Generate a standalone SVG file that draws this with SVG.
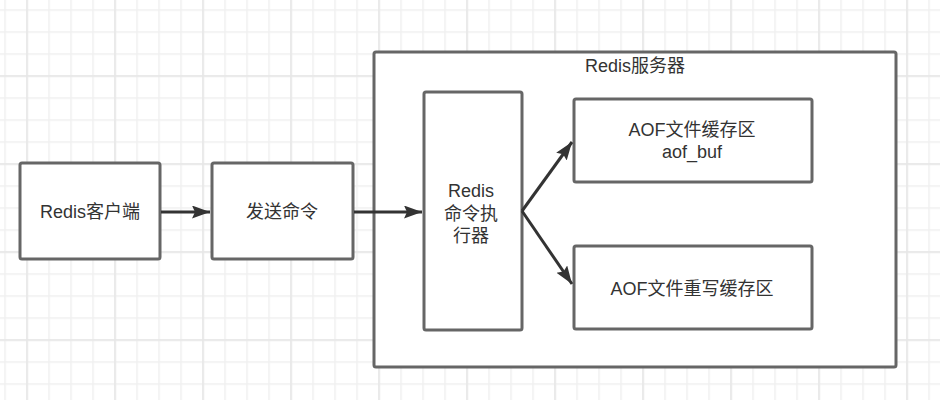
<svg xmlns="http://www.w3.org/2000/svg" width="940" height="400" viewBox="0 0 940 400">
  <defs>
    <pattern id="minor" patternUnits="userSpaceOnUse" x="4.25" y="9.25" width="22" height="22">
      <rect x="0" y="0" width="22" height="1.5" fill="#f0f0f0"/>
      <rect x="0" y="0" width="1.5" height="22" fill="#f0f0f0"/>
    </pattern>
    <pattern id="major" patternUnits="userSpaceOnUse" x="26.25" y="75.25" width="88" height="88">
      <rect x="0" y="0" width="88" height="1.5" fill="#e6e6e6"/>
      <rect x="0" y="0" width="1.5" height="88" fill="#e6e6e6"/>
    </pattern>
    <marker id="arrow" markerUnits="userSpaceOnUse" markerWidth="20" markerHeight="14" refX="18" refY="6.5" orient="auto">
      <path d="M0,0 L18,6.5 L0,13 L3,6.5 z" fill="#333"/>
    </marker>
  </defs>
  <style>
    .box { fill: #ffffff; stroke: #666666; stroke-width: 3; }
    .label { font-family: "Liberation Sans", "Noto Sans CJK SC", sans-serif; font-size: 18px; fill: #333333; text-anchor: middle; }
    .conn { stroke: #333333; stroke-width: 3; fill: none; marker-end: url(#arrow); }
  </style>
  <rect width="940" height="400" fill="#ffffff"/>
  <rect width="940" height="400" fill="url(#minor)"/>
  <rect width="940" height="400" fill="url(#major)"/>

  <g id="server">
    <rect class="box" x="374" y="52" width="522" height="315" rx="2"/>
    <text class="label" x="635" y="72">Redis服务器</text>
  </g>

  <g id="client">
    <rect class="box" x="20" y="163" width="140" height="96" rx="2"/>
    <text class="label" x="90" y="218">Redis客户端</text>
  </g>

  <g id="send">
    <rect class="box" x="212" y="163" width="141" height="96" rx="2"/>
    <text class="label" x="282" y="218">发送命令</text>
  </g>

  <g id="executor">
    <rect class="box" x="424" y="92" width="98" height="238" rx="2"/>
    <text class="label" x="471" y="197">Redis</text>
    <text class="label" x="471" y="220">命令执</text>
    <text class="label" x="471" y="242">行器</text>
  </g>

  <g id="aofbuf">
    <rect class="box" x="574" y="99" width="238" height="83" rx="2"/>
    <text class="label" x="692" y="136">AOF文件缓存区</text>
    <text class="label" x="692" y="158">aof_buf</text>
  </g>

  <g id="aofrewrite">
    <rect class="box" x="574" y="246" width="238" height="83" rx="2"/>
    <text class="label" x="692" y="295">AOF文件重写缓存区</text>
  </g>

  <g id="connectors">
    <line class="conn" x1="161" y1="212" x2="210" y2="212"/>
    <line class="conn" x1="354" y1="212" x2="422" y2="212"/>
    <line class="conn" x1="522" y1="211" x2="572" y2="142"/>
    <line class="conn" x1="522" y1="211" x2="572" y2="284"/>
  </g>
</svg>
